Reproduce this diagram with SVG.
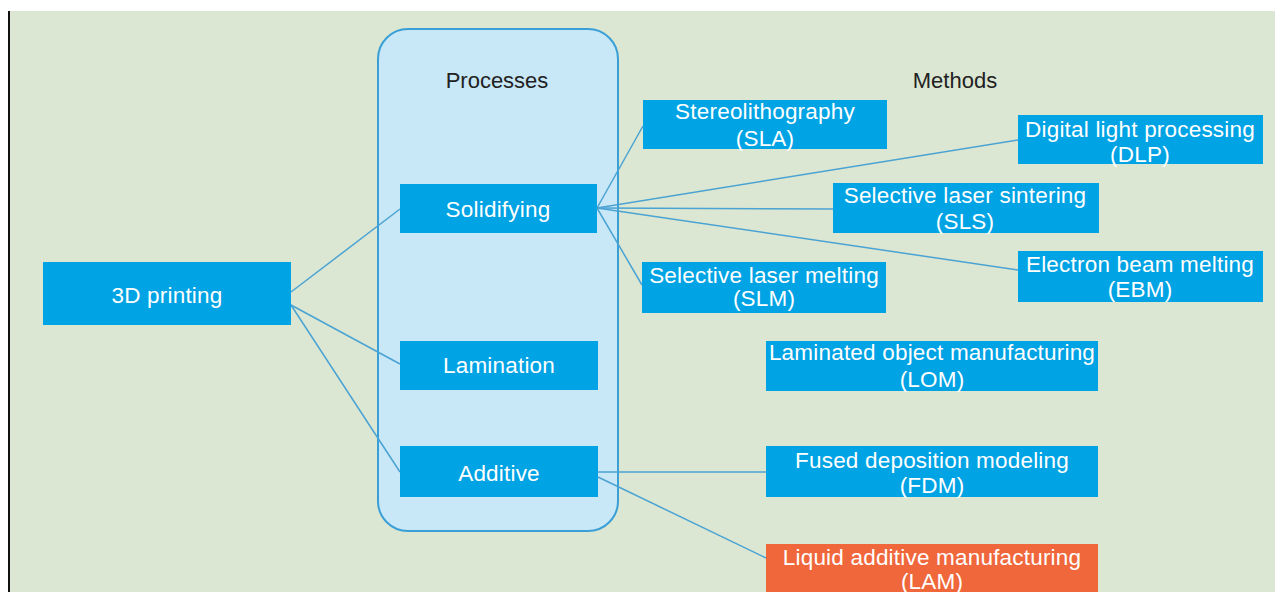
<svg xmlns="http://www.w3.org/2000/svg" width="1275" height="592" viewBox="0 0 1275 592">
<style>
.bg{fill:#dbe7d3}
.node{fill:#00a3e4}
.lam{fill:#f0673c}
.t{font-family:"Liberation Sans",Arial,sans-serif;font-size:22.5px;letter-spacing:0.2px;fill:#ffffff;text-anchor:middle}
.h{font-family:"Liberation Sans",Arial,sans-serif;font-size:22px;fill:#222222;text-anchor:middle}
.c{stroke:#4aa3d3;stroke-width:1.5;fill:none}
</style>
<rect x="0" y="0" width="1275" height="592" fill="#ffffff"/>
<rect class="bg" x="10" y="11" width="1265" height="581"/>
<rect x="8" y="11" width="2" height="581" fill="#111111"/>
<g id="processes-container">
<rect x="378" y="29" width="240" height="502" rx="30" ry="30" fill="#c8e7f7" stroke="#3a9fd6" stroke-width="2"/>
<text class="h" x="497" y="88">Processes</text>
</g>
<g id="methods-label">
<text class="h" x="955" y="88">Methods</text>
</g>
<g id="connectors">
<line class="c" x1="291" y1="292" x2="400" y2="209"/>
<line class="c" x1="291" y1="305" x2="400" y2="364"/>
<line class="c" x1="291" y1="305" x2="400" y2="472"/>
<line class="c" x1="597" y1="208" x2="643" y2="126"/>
<line class="c" x1="597" y1="208" x2="1018" y2="140"/>
<line class="c" x1="597" y1="208" x2="833" y2="209"/>
<line class="c" x1="597" y1="208" x2="1018" y2="270"/>
<line class="c" x1="597" y1="208" x2="642" y2="285"/>
<line class="c" x1="598" y1="472" x2="766" y2="472"/>
<line class="c" x1="598" y1="477" x2="766" y2="558"/>
</g>
<g id="n-3dprinting">
<rect class="node" x="43" y="262" width="248" height="63"/>
<text class="t" x="167" y="303">3D printing</text>
</g>
<g id="n-solidifying">
<rect class="node" x="400" y="184" width="197" height="49"/>
<text class="t" x="498" y="217">Solidifying</text>
</g>
<g id="n-lamination">
<rect class="node" x="400" y="341" width="198" height="49"/>
<text class="t" x="499" y="373">Lamination</text>
</g>
<g id="n-additive">
<rect class="node" x="400" y="446" width="198" height="51"/>
<text class="t" x="499" y="481">Additive</text>
</g>
<g id="n-sla">
<rect class="node" x="643" y="100" width="244" height="49"/>
<text class="t" x="765" y="119">Stereolithography</text>
<text class="t" x="765" y="146">(SLA)</text>
</g>
<g id="n-dlp">
<rect class="node" x="1018" y="115" width="245" height="49"/>
<text class="t" x="1140" y="137">Digital light processing</text>
<text class="t" x="1140" y="162">(DLP)</text>
</g>
<g id="n-sls">
<rect class="node" x="833" y="183" width="266" height="50"/>
<text class="t" x="965" y="203">Selective laser sintering</text>
<text class="t" x="965" y="229">(SLS)</text>
</g>
<g id="n-ebm">
<rect class="node" x="1018" y="251" width="245" height="51"/>
<text class="t" x="1140" y="272">Electron beam melting</text>
<text class="t" x="1140" y="297">(EBM)</text>
</g>
<g id="n-slm">
<rect class="node" x="642" y="262" width="244" height="51"/>
<text class="t" x="764" y="283">Selective laser melting</text>
<text class="t" x="764" y="306">(SLM)</text>
</g>
<g id="n-lom">
<rect class="node" x="766" y="341" width="332" height="50"/>
<text class="t" x="932" y="360">Laminated object manufacturing</text>
<text class="t" x="932" y="387">(LOM)</text>
</g>
<g id="n-fdm">
<rect class="node" x="766" y="446" width="332" height="51"/>
<text class="t" x="932" y="468">Fused deposition modeling</text>
<text class="t" x="932" y="493">(FDM)</text>
</g>
<g id="n-lam">
<rect class="lam" x="766" y="544" width="332" height="48"/>
<text class="t" x="932" y="565">Liquid additive manufacturing</text>
<text class="t" x="932" y="589">(LAM)</text>
</g>
</svg>
